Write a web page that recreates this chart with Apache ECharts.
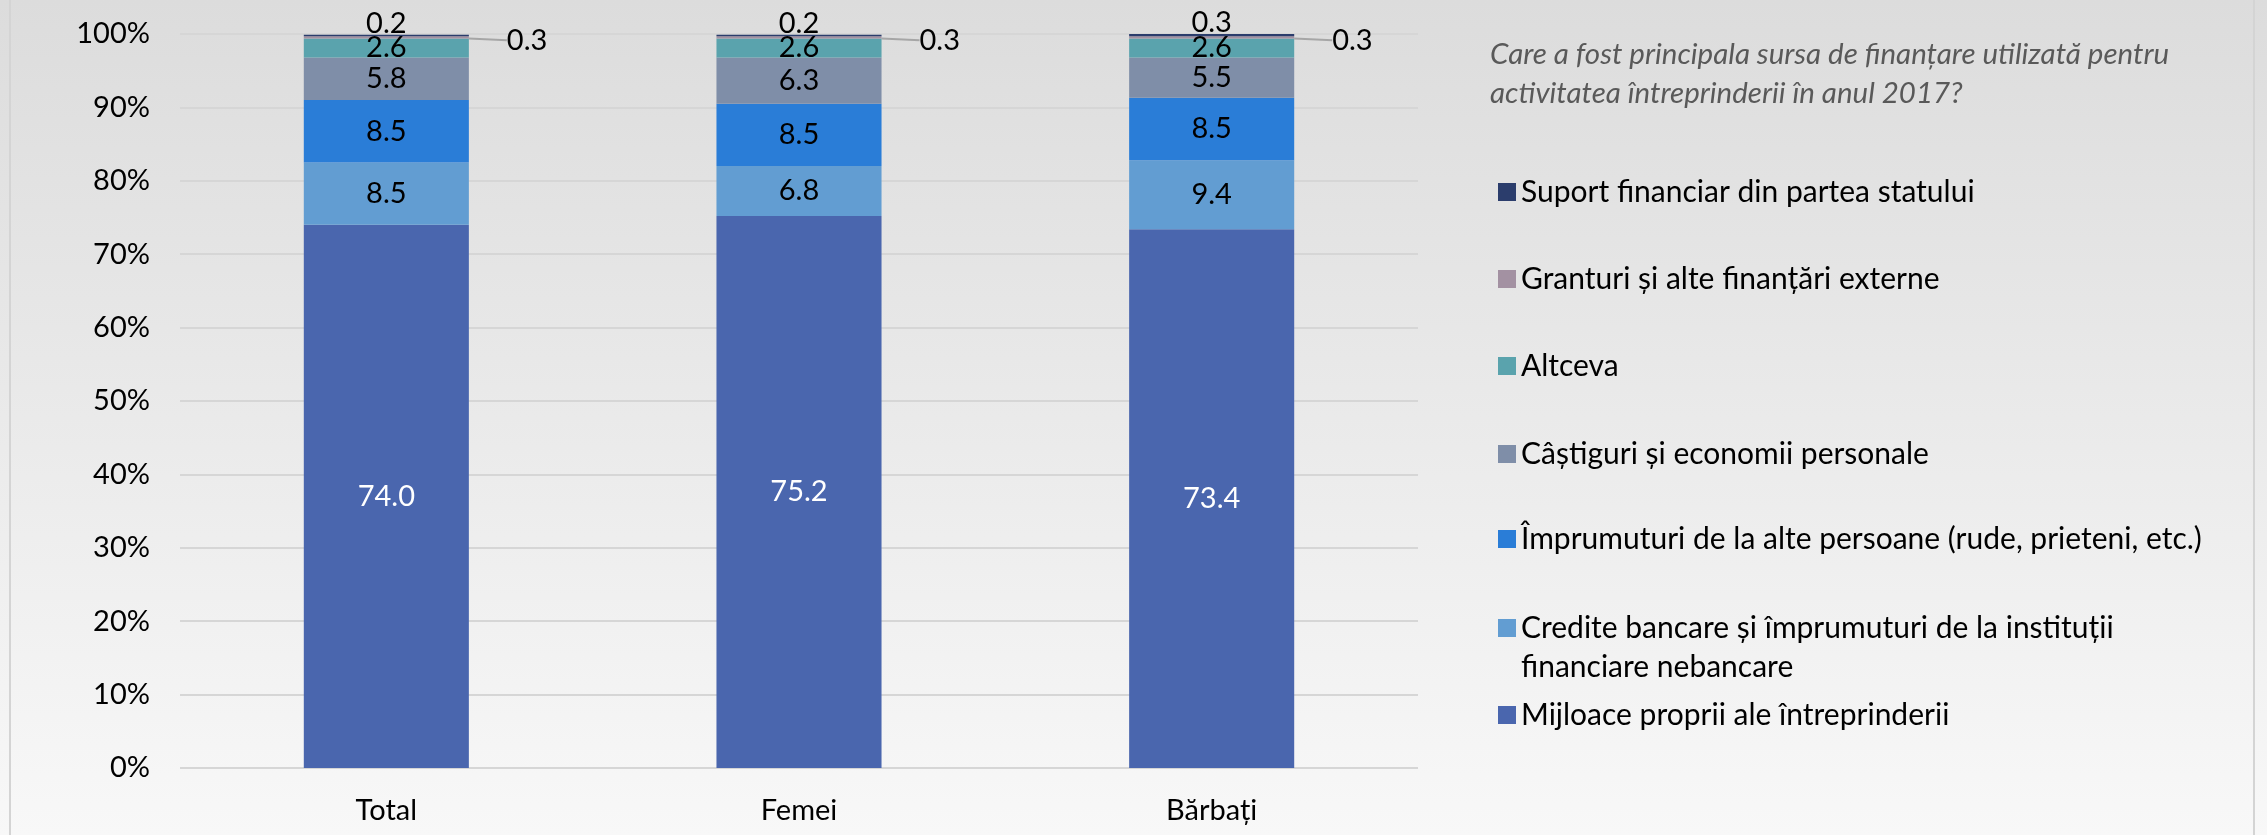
<!DOCTYPE html>
<html><head><meta charset="utf-8">
<script src="https://cdn.jsdelivr.net/npm/echarts@6/dist/echarts.min.js"></script>
<style>html,body{margin:0;padding:0;}#c{width:2267px;height:835px;}</style>
</head><body><div id="c"></div>
<script>
const categories = ['Total', 'Femei', 'Bărbați'];
const seriesNames = [
  'Mijloace proprii ale întreprinderii',
  'Credite bancare și împrumuturi de la instituții financiare nebancare',
  'Împrumuturi de la alte persoane (rude, prieteni, etc.)',
  'Câștiguri și economii personale',
  'Altceva',
  'Granturi și alte finanțări externe',
  'Suport financiar din partea statului'
];
const mijloace = [74.0, 75.2, 73.4];
const credite = [8.5, 6.8, 9.4];
const imprumuturi = [8.5, 8.5, 8.5];
const castiguri = [5.8, 6.3, 5.5];
const altceva = [2.6, 2.6, 2.6];
const granturi = [0.3, 0.3, 0.3];
const suport = [0.2, 0.2, 0.3];
const titleText = 'Care a fost principala sursa de finanțare utilizată pentru\nactivitatea întreprinderii în anul 2017?';

const values = [mijloace, credite, imprumuturi, castiguri, altceva, granturi, suport];
const colors = ['#4a66ae', '#629dd2', '#2a7dd7', '#7f8ea8', '#5aa3ad', '#a391a2', '#2b3d6c'];
const FONT = 'Lato';
const FS = 29;

const series = seriesNames.map((name, i) => {
  const s = {
    name: name, type: 'bar', stack: 'total', data: values[i],
    barWidth: '40%',
    itemStyle: { color: colors[i] },
    label: {
      show: true, position: 'inside', color: i === 0 ? '#ffffff' : '#000000',
      fontFamily: FONT, fontSize: FS,
      formatter: p => p.value.toFixed(1)
    }
  };
  if (i === 5) {
    s.label = { show: true, position: 'right', distance: 0, color: '#000', fontFamily: FONT, fontSize: FS,
      formatter: p => p.value.toFixed(1) };
    s.labelLayout = { dx: 38, dy: 3 };
    s.labelLine = { show: true, lineStyle: { color: '#a6a6a6', width: 2 } };
  }
  if (i === 6) {
    s.label = { show: true, position: 'top', distance: -3, color: '#000', fontFamily: FONT, fontSize: FS,
      formatter: p => p.value.toFixed(1) };
  }
  return s;
});

// legend items top-to-bottom with their centre y
const legendOrder = [6, 5, 4, 3, 2, 1, 0];
const legendCenters = [192, 279, 366, 454, 539, 628, 715];
const legends = legendOrder.map((si, k) => {
  const isCred = si === 1;
  const lh = isCred ? 39 : 32;
  const h = isCred ? lh * 3 : lh;
  return {
    data: [seriesNames[si]], left: 1498, top: legendCenters[k] - h / 2,
    padding: 0, itemWidth: 18, itemHeight: 18, icon: 'rect', selectedMode: false,
    textStyle: { fontFamily: FONT, fontSize: 30, color: '#000', lineHeight: lh },
    formatter: isCred ? () => '\nCredite bancare și împrumuturi de la instituții\nfinanciare nebancare' : undefined
  };
});

const chart = echarts.init(document.getElementById('c'));
chart.setOption({
  animation: false,
  backgroundColor: { type: 'linear', x: 0, y: 0, x2: 0, y2: 1,
    colorStops: [{ offset: 0, color: '#dcdcdc' }, { offset: 1, color: '#f8f8f8' }] },
  title: {
    text: titleText, left: 1490, top: 35, padding: 0,
    textStyle: { fontFamily: FONT, fontSize: 29.5, fontStyle: 'italic', fontWeight: 'normal', color: '#595959', lineHeight: 39 }
  },
  legend: legends,
  grid: { left: 180, right: 849, top: 34, bottom: 67, containLabel: false },
  xAxis: {
    type: 'category', data: categories,
    axisLine: { show: false }, axisTick: { show: false },
    axisLabel: { fontFamily: FONT, fontSize: FS, color: '#000', margin: 28 }
  },
  yAxis: {
    type: 'value', min: 0, max: 100, interval: 10,
    axisLine: { show: false }, axisTick: { show: false },
    axisLabel: { fontFamily: FONT, fontSize: FS, color: '#000', margin: 30, formatter: '{value}%' },
    splitLine: { lineStyle: { color: '#d6d6d6', width: 2 } }
  },
  graphic: [
    { type: 'line', shape: { x1: 10, y1: 0, x2: 10, y2: 835 }, style: { stroke: '#d4d4d4', lineWidth: 2 } },
    { type: 'line', shape: { x1: 2254, y1: 0, x2: 2254, y2: 835 }, style: { stroke: '#d4d4d4', lineWidth: 2 } }
  ],
  series: series
});
</script></body></html>
